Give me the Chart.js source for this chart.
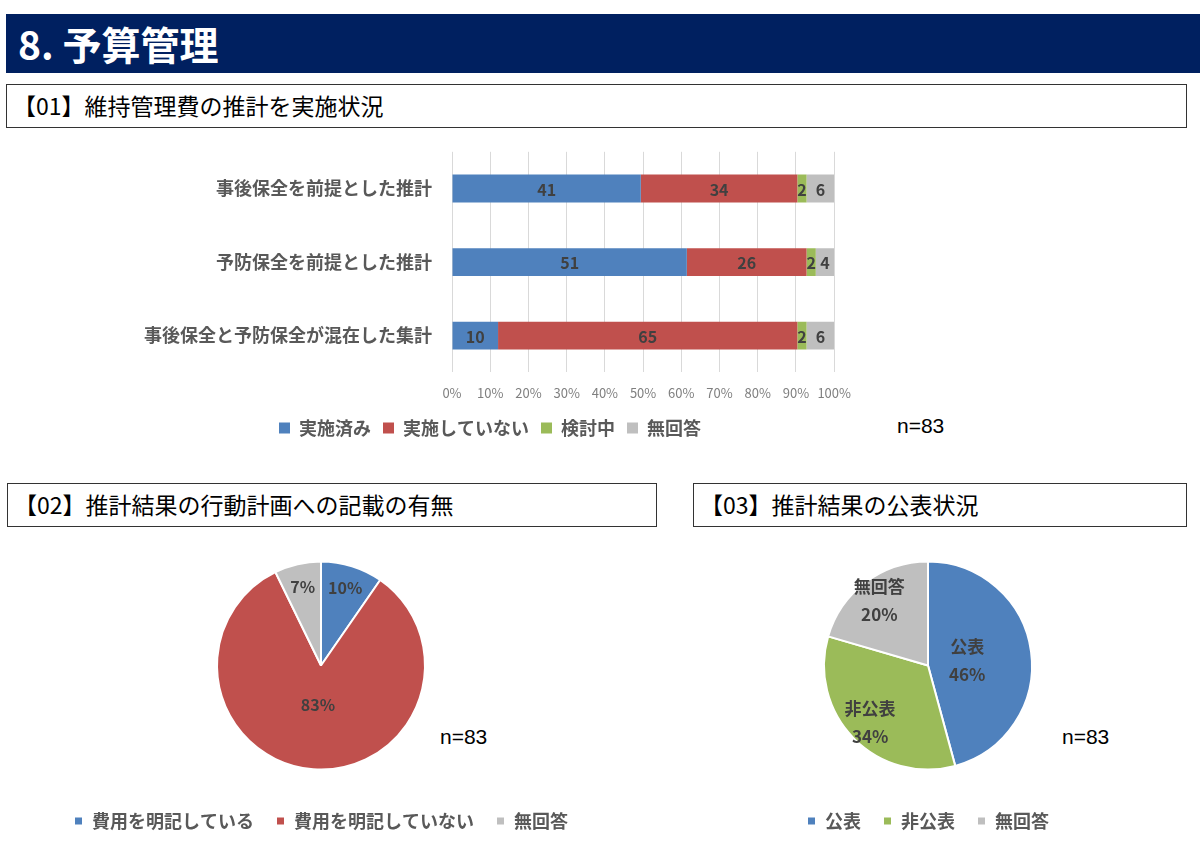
<!DOCTYPE html>
<html lang="ja">
<head>
<meta charset="utf-8">
<script src="https://cdn.jsdelivr.net/npm/chart.js@4.4.1/dist/chart.umd.min.js"></script>
<style>
    body { margin: 0; width: 1200px; height: 847px; background: #fff; position: relative; overflow: hidden;
           font-family: "Noto Sans CJK JP", "Noto Sans", sans-serif; }
    .titulo { position: absolute; left: 6px; top: 14px; width: 1194px; height: 59px; background: #002060;
              color: #fff; font-weight: bold; font-size: 39px; line-height: 59px; box-sizing: border-box; padding-left: 12px; }
    .caja { position: absolute; border: 1.5px solid #333; box-sizing: border-box; font-size: 23px; line-height: 40px;
            padding-left: 6px; color: #000; }
    .n { position: absolute; font-family: "Liberation Sans", sans-serif; font-size: 21px; color: #000; }
    canvas { position: absolute; }
</style>
</head>
<body>
<div class="titulo">8. 予算管理</div>
<div class="caja" style="left:6px;top:84px;width:1181px;height:44px;">【01】維持管理費の推計を実施状況</div>
<div class="caja" style="left:7px;top:483px;width:650px;height:44px;">【02】推計結果の行動計画への記載の有無</div>
<div class="caja" style="left:693px;top:483px;width:494px;height:44px;">【03】推計結果の公表状況</div>

<div class="n" style="left:897px;top:414px;">n=83</div>
<div class="n" style="left:440px;top:725px;">n=83</div>
<div class="n" style="left:1062px;top:725px;">n=83</div>

<canvas id="graficoBarras" style="left:130px;top:129px;width:734px;height:318px;"></canvas>
<canvas id="graficoTorta1" style="left:21px;top:541px;width:600px;height:299px;"></canvas>
<canvas id="graficoTorta2" style="left:628px;top:541px;width:600px;height:299px;"></canvas>

<script>
// Datos de la grafica 01 (cantidad de respuestas, n=83)
const categorias01 = ["事後保全を前提とした推計", "予防保全を前提とした推計", "事後保全と予防保全が混在した集計"];
const series01 = ["実施済み", "実施していない", "検討中", "無回答"];
const implementado = [41, 51, 10];
const noImplementado = [34, 26, 65];
const enEstudio = [2, 2, 2];
const sinRespuesta01 = [6, 4, 6];
const ticksPorcentaje = [0, 10, 20, 30, 40, 50, 60, 70, 80, 90, 100];

// Datos de la grafica 02
const categorias02 = ["費用を明記している", "費用を明記していない", "無回答"];
const valores02 = [8, 69, 6];

// Datos de la grafica 03
const categorias03 = ["公表", "非公表", "無回答"];
const valores03 = [38, 28, 17];

const AZUL = "#4F81BD", ROJO = "#C0504D", VERDE = "#9BBB59", GRIS = "#BFBFBF";
const FUENTE = "'Noto Sans CJK JP', 'Noto Sans', sans-serif";
const TEXTO = "#404040";
const GRIS_TEXTO = "#595959";

Chart.defaults.font.family = FUENTE;
Chart.defaults.animation = false;

// Pasamos cantidades a porcentaje para la barra apilada al 100%
const totales = implementado.map((v, i) => v + noImplementado[i] + enEstudio[i] + sinRespuesta01[i]);
const aPorcentaje = arr => arr.map((v, i) => v / totales[i] * 100);
const cantidades = [implementado, noImplementado, enEstudio, sinRespuesta01];

// Plugin sencillo para escribir las etiquetas de las barras
const etiquetasBarras = {
    id: "etiquetasBarras",
    afterDatasetsDraw(chart) {
        const ctx = chart.ctx;
        ctx.save();
        ctx.font = "bold 16px " + FUENTE;
        ctx.fillStyle = TEXTO;
        ctx.textAlign = "center";
        ctx.textBaseline = "middle";
        chart.data.datasets.forEach((ds, d) => {
            chart.getDatasetMeta(d).data.forEach((barra, i) => {
                const x = (barra.x + barra.base) / 2;
                ctx.fillText(String(cantidades[d][i]), x, barra.y + 1);
            });
        });
        ctx.restore();
    }
};

new Chart(document.getElementById("graficoBarras"), {
    type: "bar",
    data: {
        labels: categorias01,
        datasets: [
            { label: series01[0], data: aPorcentaje(implementado), backgroundColor: AZUL },
            { label: series01[1], data: aPorcentaje(noImplementado), backgroundColor: ROJO },
            { label: series01[2], data: aPorcentaje(enEstudio), backgroundColor: VERDE },
            { label: series01[3], data: aPorcentaje(sinRespuesta01), backgroundColor: GRIS }
        ]
    },
    options: {
        indexAxis: "y",
        responsive: false,
        maintainAspectRatio: false,
        layout: { padding: { top: 0, right: 14, left: 0, bottom: 0 } },
        datasets: { bar: { categoryPercentage: 1, barPercentage: 0.38 } },
        scales: {
            x: {
                stacked: true, min: 0, max: 100,
                afterBuildTicks: s => { s.ticks = ticksPorcentaje.map(v => ({ value: v })); },
                afterFit: s => { s.height -= 7; },
                grid: { color: "#D9D9D9", drawTicks: false },
                border: { display: false },
                ticks: { callback: v => v + "%", color: "#7F7F7F", font: { size: 13 }, padding: 13, maxRotation: 0 }
            },
            y: {
                stacked: true,
                grid: { display: false },
                border: { display: false },
                afterFit: s => { s.width = 322; },
                ticks: { color: GRIS_TEXTO, font: { size: 18, weight: "bold" }, padding: 12 }
            }
        },
        plugins: {
            legend: {
                position: "bottom",
                labels: { boxWidth: 11, boxHeight: 11, color: GRIS_TEXTO, font: { size: 18, weight: "bold" }, padding: 12 }
            },
            tooltip: { enabled: false }
        }
    },
    plugins: [etiquetasBarras]
});

// Plugin para las etiquetas dentro de las tortas
const etiquetasTorta = {
    id: "etiquetasTorta",
    afterDatasetsDraw(chart, args, opts) {
        const ctx = chart.ctx;
        const datos = chart.data.datasets[0].data;
        const total = datos.reduce((a, b) => a + b, 0);
        const mayor = Math.max(...datos);
        ctx.save();
        ctx.font = "bold " + opts.tamano + "px " + FUENTE;
        ctx.fillStyle = TEXTO;
        ctx.textAlign = "center";
        ctx.textBaseline = "middle";
        chart.getDatasetMeta(0).data.forEach((arco, i) => {
            const medio = (arco.startAngle + arco.endAngle) / 2;
            const f = datos[i] === mayor ? 0.38 : 0.78;
            const x = arco.x + Math.cos(medio) * arco.outerRadius * f;
            const y = arco.y + Math.sin(medio) * arco.outerRadius * f;
            const pct = Math.round(datos[i] / total * 100) + "%";
            if (opts.conNombre) {
                ctx.fillText(chart.data.labels[i], x, y - 14);
                ctx.fillText(pct, x, y + 14);
            } else {
                ctx.fillText(pct, x, y);
            }
        });
        ctx.restore();
    }
};

function crearTorta(id, etiquetas, valores, colores, conNombre) {
    new Chart(document.getElementById(id), {
        type: "pie",
        data: {
            labels: etiquetas,
            datasets: [{ data: valores, backgroundColor: colores, borderColor: "#fff", borderWidth: 2, radius: 104 }]
        },
        options: {
            responsive: false,
            maintainAspectRatio: false,
            layout: { padding: 0 },
            plugins: {
                legend: {
                    position: "bottom",
                    labels: { boxWidth: 9, boxHeight: 9, color: GRIS_TEXTO, font: { size: 18, weight: "bold" }, padding: 22 }
                },
                tooltip: { enabled: false },
                etiquetasTorta: { conNombre: conNombre, tamano: conNombre ? 17 : 16 }
            }
        },
        plugins: [etiquetasTorta]
    });
}

crearTorta("graficoTorta1", categorias02, valores02, [AZUL, ROJO, GRIS], false);
crearTorta("graficoTorta2", categorias03, valores03, [AZUL, VERDE, GRIS], true);
</script>
</body>
</html>
